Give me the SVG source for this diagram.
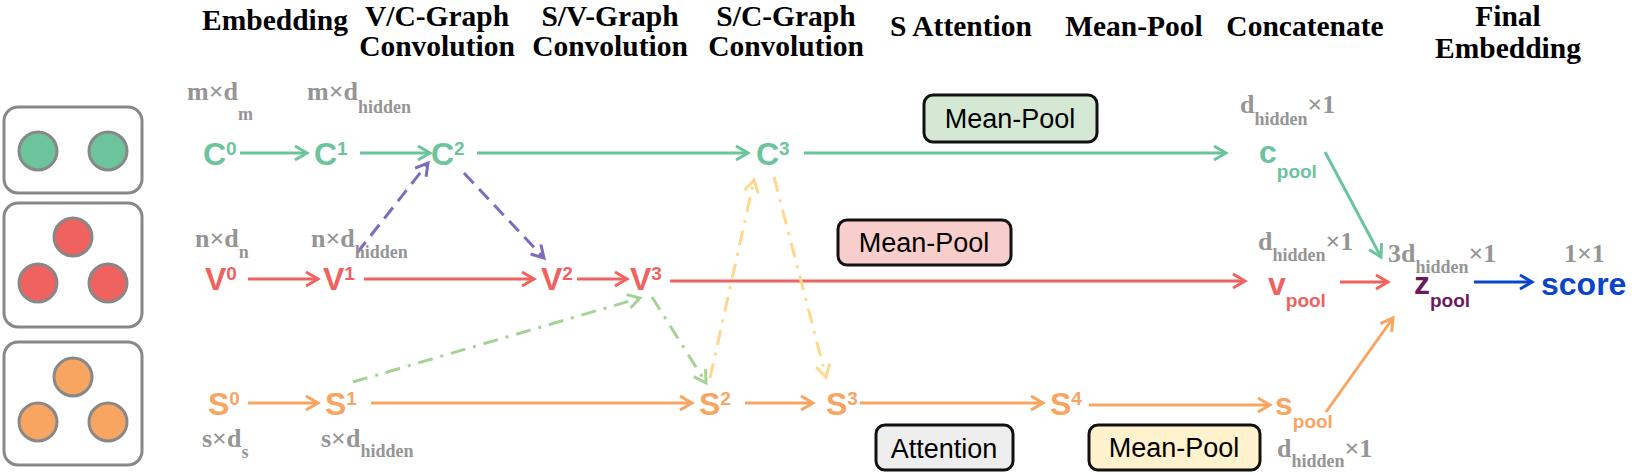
<svg xmlns="http://www.w3.org/2000/svg" width="1632" height="475" viewBox="0 0 1632 475">
<style>
.hdr{font-family:"Liberation Serif","Times New Roman",serif;font-weight:bold;font-size:29.5px;fill:#000;text-anchor:middle}
.dim{font-family:"Liberation Serif","Times New Roman",serif;font-weight:bold;font-size:26px;fill:#959595}
.sub{font-size:18px}
.node{font-family:"Liberation Sans",Arial,sans-serif;font-weight:bold;font-size:32px}
.sup{font-size:19px}
.psub{font-size:19px}
.g{fill:#6BC49B}.r{fill:#F0625F}.o{fill:#F7A560}.z{fill:#6B1A5C}.b{fill:#0A45C8}
.box{stroke:#888;stroke-width:3;fill:#fff}
.cir{stroke:#888;stroke-width:3}
.lbl{stroke:#111;stroke-width:3}
.lt{font-family:"Liberation Sans",Arial,sans-serif;font-size:27px;fill:#000;text-anchor:middle}
.ln{fill:none;stroke-width:3}
.sg{stroke:#6BC49B}.sr{stroke:#F0625F}.so{stroke:#F7A560}.sp{stroke:#7D6BBF}.slg{stroke:#A5D396}.sy{stroke:#FFD88F}.sb{stroke:#0A45C8}
.dash{stroke-dasharray:14 8}
.dd{stroke-dasharray:15 8 3 8}
</style>
<defs>
<marker id="ag" viewBox="0 0 20 20" refX="17" refY="10" markerWidth="20" markerHeight="20" markerUnits="userSpaceOnUse" orient="auto"><path d="M5,3 L17,10 L5,17" fill="none" stroke="#6BC49B" stroke-width="3"/></marker>
<marker id="ar" viewBox="0 0 20 20" refX="17" refY="10" markerWidth="20" markerHeight="20" markerUnits="userSpaceOnUse" orient="auto"><path d="M5,3 L17,10 L5,17" fill="none" stroke="#F0625F" stroke-width="3"/></marker>
<marker id="ao" viewBox="0 0 20 20" refX="17" refY="10" markerWidth="20" markerHeight="20" markerUnits="userSpaceOnUse" orient="auto"><path d="M5,3 L17,10 L5,17" fill="none" stroke="#F7A560" stroke-width="3"/></marker>
<marker id="ap" viewBox="0 0 20 20" refX="17" refY="10" markerWidth="20" markerHeight="20" markerUnits="userSpaceOnUse" orient="auto"><path d="M5,3 L17,10 L5,17" fill="none" stroke="#7D6BBF" stroke-width="3"/></marker>
<marker id="alg" viewBox="0 0 20 20" refX="17" refY="10" markerWidth="20" markerHeight="20" markerUnits="userSpaceOnUse" orient="auto"><path d="M5,3 L17,10 L5,17" fill="none" stroke="#A5D396" stroke-width="3"/></marker>
<marker id="ay" viewBox="0 0 20 20" refX="17" refY="10" markerWidth="20" markerHeight="20" markerUnits="userSpaceOnUse" orient="auto"><path d="M5,3 L17,10 L5,17" fill="none" stroke="#FFD88F" stroke-width="3"/></marker>
<marker id="ab" viewBox="0 0 20 20" refX="17" refY="10" markerWidth="20" markerHeight="20" markerUnits="userSpaceOnUse" orient="auto"><path d="M5,3 L17,10 L5,17" fill="none" stroke="#0A45C8" stroke-width="3"/></marker>
</defs>
<rect width="1632" height="475" fill="#fff"/>

<g id="headers">
<text class="hdr" x="275" y="30">Embedding</text>
<text class="hdr" x="437" y="26">V/C-Graph</text>
<text class="hdr" x="437" y="56">Convolution</text>
<text class="hdr" x="610" y="26">S/V-Graph</text>
<text class="hdr" x="610" y="56">Convolution</text>
<text class="hdr" x="786" y="26">S/C-Graph</text>
<text class="hdr" x="786" y="56">Convolution</text>
<text class="hdr" x="961" y="36">S Attention</text>
<text class="hdr" x="1134" y="36">Mean-Pool</text>
<text class="hdr" x="1305" y="36">Concatenate</text>
<text class="hdr" x="1508" y="26">Final</text>
<text class="hdr" x="1508" y="58">Embedding</text>
</g>

<g id="input-c">
<rect class="box" x="4" y="107" width="138" height="86" rx="14"/>
<circle class="cir g" cx="38" cy="151" r="19"/>
<circle class="cir g" cx="108" cy="151" r="19"/>
</g>
<g id="input-v">
<rect class="box" x="4" y="203" width="138" height="124" rx="14"/>
<circle class="cir r" cx="73" cy="237" r="19"/>
<circle class="cir r" cx="38" cy="283" r="19"/>
<circle class="cir r" cx="108" cy="283" r="19"/>
</g>
<g id="input-s">
<rect class="box" x="4" y="342" width="138" height="123" rx="14"/>
<circle class="cir o" cx="73" cy="377" r="19"/>
<circle class="cir o" cx="38" cy="422" r="19"/>
<circle class="cir o" cx="108" cy="422" r="19"/>
</g>

<g id="connectors">
<line class="ln sg" x1="240" y1="153" x2="307" y2="153" marker-end="url(#ag)"/>
<line class="ln sg" x1="360" y1="153" x2="430" y2="153" marker-end="url(#ag)"/>
<line class="ln sg" x1="477" y1="153" x2="748" y2="153" marker-end="url(#ag)"/>
<line class="ln sg" x1="804" y1="153" x2="1226" y2="153" marker-end="url(#ag)"/>
<line class="ln sg" x1="1325" y1="152" x2="1381" y2="257" marker-end="url(#ag)"/>
<line class="ln sr" x1="248" y1="279" x2="318" y2="279" marker-end="url(#ar)"/>
<line class="ln sr" x1="364" y1="279" x2="534" y2="279" marker-end="url(#ar)"/>
<line class="ln sr" x1="577" y1="279" x2="627" y2="279" marker-end="url(#ar)"/>
<line class="ln sr" x1="670" y1="281" x2="1245" y2="281" marker-end="url(#ar)"/>
<line class="ln sr" x1="1340" y1="282" x2="1388" y2="282" marker-end="url(#ar)"/>
<line class="ln sb" x1="1474" y1="282" x2="1532" y2="282" marker-end="url(#ab)"/>
<line class="ln so" x1="248" y1="403" x2="318" y2="403" marker-end="url(#ao)"/>
<line class="ln so" x1="371" y1="403" x2="692" y2="403" marker-end="url(#ao)"/>
<line class="ln so" x1="745" y1="403" x2="813" y2="403" marker-end="url(#ao)"/>
<line class="ln so" x1="860" y1="403" x2="1043" y2="403" marker-end="url(#ao)"/>
<line class="ln so" x1="1089" y1="405" x2="1270" y2="405" marker-end="url(#ao)"/>
<line class="ln so" x1="1326" y1="412" x2="1393" y2="318" marker-end="url(#ao)"/>
<line class="ln sp dash" x1="357" y1="253" x2="428" y2="163" marker-end="url(#ap)"/>
<line class="ln sp dash" x1="464" y1="173" x2="544" y2="258" marker-end="url(#ap)"/>
<line class="ln slg dd" x1="353" y1="382" x2="640" y2="298" marker-end="url(#alg)"/>
<line class="ln slg dd" x1="652" y1="297" x2="706" y2="383" marker-end="url(#alg)"/>
<line class="ln sy dd" x1="710" y1="378" x2="754" y2="180" marker-end="url(#ay)"/>
<line class="ln sy dd" x1="774" y1="177" x2="826" y2="377" marker-end="url(#ay)"/>
</g>

<g id="op-meanpool-c"><rect class="lbl" x="924" y="95" width="173" height="47" rx="9" fill="#D5E8D4"/><text class="lt" x="1010" y="128">Mean-Pool</text></g>
<g id="op-meanpool-v"><rect class="lbl" x="838" y="220" width="173" height="45" rx="9" fill="#F8CECC"/><text class="lt" x="924" y="252">Mean-Pool</text></g>
<g id="op-attention"><rect class="lbl" x="876" y="425" width="137" height="45" rx="9" fill="#EEEEEE"/><text class="lt" x="944" y="458">Attention</text></g>
<g id="op-meanpool-s"><rect class="lbl" x="1089" y="425" width="171" height="45" rx="9" fill="#FFF2CC"/><text class="lt" x="1174" y="457">Mean-Pool</text></g>

<g id="node-C0"><text class="node g" x="203" y="165">C<tspan class="sup" dy="-10">0</tspan></text><text class="dim" x="187" y="100">m×d<tspan class="sub" dy="20">m</tspan></text></g>
<g id="node-C1"><text class="node g" x="314" y="165">C<tspan class="sup" dy="-10">1</tspan></text><text class="dim" x="307" y="100">m×d<tspan class="sub" dy="13">hidden</tspan></text></g>
<g id="node-C2"><text class="node g" x="431" y="165">C<tspan class="sup" dy="-10">2</tspan></text></g>
<g id="node-C3"><text class="node g" x="756" y="165">C<tspan class="sup" dy="-10">3</tspan></text></g>
<g id="node-V0"><text class="node r" x="205" y="290">V<tspan class="sup" dy="-10">0</tspan></text><text class="dim" x="195" y="247">n×d<tspan class="sub" dy="11">n</tspan></text></g>
<g id="node-V1"><text class="node r" x="323" y="290">V<tspan class="sup" dy="-10">1</tspan></text><text class="dim" x="311" y="247">n×d<tspan class="sub" dy="11">hidden</tspan></text></g>
<g id="node-V2"><text class="node r" x="541" y="290">V<tspan class="sup" dy="-10">2</tspan></text></g>
<g id="node-V3"><text class="node r" x="630" y="290">V<tspan class="sup" dy="-10">3</tspan></text></g>
<g id="node-S0"><text class="node o" x="208" y="415">S<tspan class="sup" dy="-10">0</tspan></text><text class="dim" x="202" y="447">s×d<tspan class="sub" dy="11">s</tspan></text></g>
<g id="node-S1"><text class="node o" x="325" y="415">S<tspan class="sup" dy="-10">1</tspan></text><text class="dim" x="321" y="447">s×d<tspan class="sub" dy="10">hidden</tspan></text></g>
<g id="node-S2"><text class="node o" x="699" y="415">S<tspan class="sup" dy="-10">2</tspan></text></g>
<g id="node-S3"><text class="node o" x="826" y="415">S<tspan class="sup" dy="-10">3</tspan></text></g>
<g id="node-S4"><text class="node o" x="1050" y="415">S<tspan class="sup" dy="-10">4</tspan></text></g>
<g id="node-cpool"><text class="node g" x="1259" y="163">c<tspan class="psub" dy="15">pool</tspan></text><text class="dim" x="1240" y="113">d<tspan class="sub" dy="12">hidden</tspan><tspan dy="-12">×1</tspan></text></g>
<g id="node-vpool"><text class="node r" x="1268" y="295">v<tspan class="psub" dy="12">pool</tspan></text><text class="dim" x="1258" y="250">d<tspan class="sub" dy="11">hidden</tspan><tspan dy="-11">×1</tspan></text></g>
<g id="node-spool"><text class="node o" x="1275" y="415">s<tspan class="psub" dy="13">pool</tspan></text><text class="dim" x="1277" y="457">d<tspan class="sub" dy="10">hidden</tspan><tspan dy="-10">×1</tspan></text></g>
<g id="node-zpool"><text class="node z" x="1414" y="294">z<tspan class="psub" dy="13">pool</tspan></text><text class="dim" x="1388" y="262">3d<tspan class="sub" dy="11">hidden</tspan><tspan dy="-11">×1</tspan></text></g>
<g id="node-score"><text class="node b" x="1541" y="295">score</text><text class="dim" x="1564" y="262">1×1</text></g>
</svg>
